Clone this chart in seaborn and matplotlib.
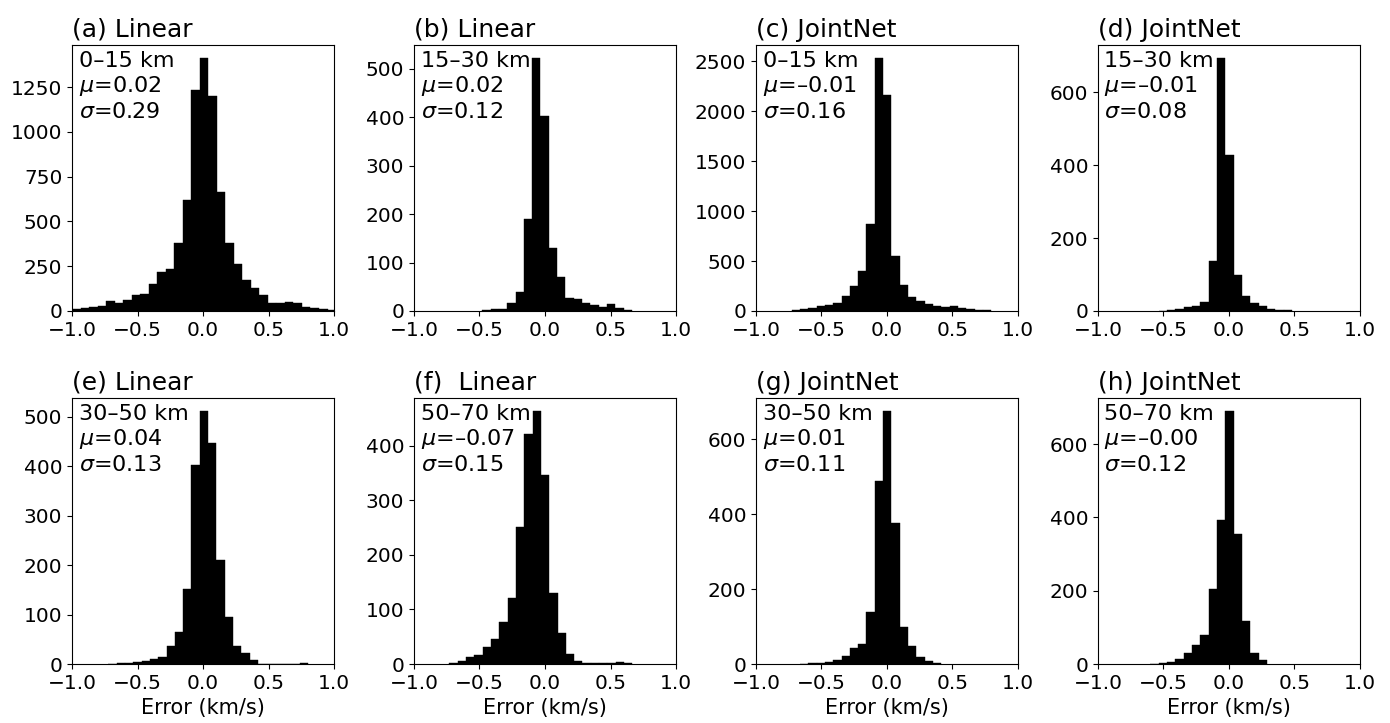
import numpy as np
import pandas as pd
import matplotlib
matplotlib.use("Agg")
import matplotlib.pyplot as plt
import seaborn as sns

# histogram counts, one list per panel
counts_a = [10, 18, 25, 27, 54, 42, 64, 87, 97, 148, 215, 232, 377, 622, 1235,
            1415, 1203, 662, 377, 260, 172, 130, 87, 45, 45, 50, 42, 20, 16, 13, 7]
counts_b = [2, 5, 5, 17, 40, 189, 523, 403, 131, 71, 27, 25, 16, 12, 8, 14, 6, 3]
counts_c = [13, 23, 30, 47, 60, 83, 147, 250, 403, 866,
            2534, 2161, 546, 256, 137, 97, 67, 50, 37, 47, 27, 23, 10, 7]
counts_d = [1, 3, 6, 11, 15, 26, 136, 695, 429, 98, 41, 21, 15, 6, 3, 2]
counts_e = [1, 2, 3, 4, 7, 10, 15, 37, 65, 152,
            403, 512, 447, 210, 94, 37, 22, 8, 1, 0, 0, 0, 0, 2]
counts_f = [1, 6, 13, 16, 32, 46, 77, 121, 250, 421, 464, 346, 130, 57, 18, 5,
            1, 1, 2, 2, 4, 2]
counts_g = [1, 2, 2, 6, 11, 21, 42, 53, 138, 490, 677, 377, 99, 49, 19, 7, 4]
counts_h = [1, 3, 5, 15, 30, 51, 78, 205, 393, 691, 355, 116, 29, 11]

# left edge of first bin and bin width (km/s)
bin_start = [-1.0, -0.479, -0.728, -0.5355, -0.723, -0.73, -0.6645, -0.599]
bin_width = [0.065, 0.0635, 0.0635, 0.0635, 0.0635, 0.0635, 0.0635, 0.0635]

titles = ["(a) Linear", "(b) Linear", "(c) JointNet", "(d) JointNet",
          "(e) Linear", "(f)  Linear", "(g) JointNet", "(h) JointNet"]
depths = ["0–15 km", "15–30 km", "0–15 km", "15–30 km",
          "30–50 km", "50–70 km", "30–50 km", "50–70 km"]
mus = ["0.02", "0.02", "–0.01", "–0.01", "0.04", "–0.07", "0.01", "–0.00"]
sigmas = ["0.29", "0.12", "0.16", "0.08", "0.13", "0.15", "0.11", "0.12"]

all_counts = [counts_a, counts_b, counts_c, counts_d,
              counts_e, counts_f, counts_g, counts_h]

fig, axes = plt.subplots(2, 4, figsize=(13.9, 7.23), dpi=100)
fig.subplots_adjust(left=0.0518, right=0.9784, top=0.9378, bottom=0.0816,
                    wspace=0.305, hspace=0.327)

for i, ax in enumerate(axes.flat):
    counts = np.asarray(all_counts[i], dtype=float)
    edges = bin_start[i] + bin_width[i] * np.arange(len(counts) + 1)
    df = pd.DataFrame({"err": edges[:-1] + bin_width[i] / 2, "n": counts})
    sns.histplot(data=df, x="err", weights="n", bins=list(edges), color="black",
                 edgecolor="black", linewidth=0.3, alpha=1, ax=ax)
    ax.set_xlim(-1, 1)
    ax.set_xticks([-1.0, -0.5, 0.0, 0.5, 1.0])
    ax.tick_params(labelsize=14.5)
    ax.set_ylabel("")
    ax.set_title(titles[i], loc="left", fontsize=18)
    ax.text(0.025, 0.978,
            f"{depths[i]}\n$\\mu$={mus[i]}\n$\\sigma$={sigmas[i]}",
            transform=ax.transAxes, ha="left", va="top", fontsize=16)
    if i >= 4:
        ax.set_xlabel("Error (km/s)", fontsize=15)
    else:
        ax.set_xlabel("")

fig.savefig("out.png", dpi=100)
